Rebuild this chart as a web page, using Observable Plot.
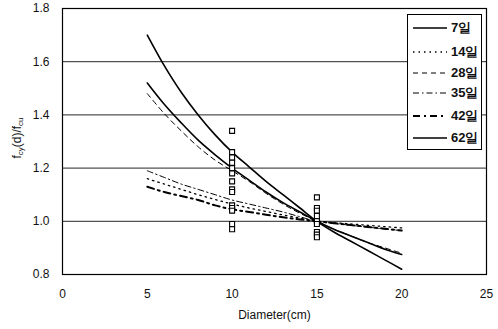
<!DOCTYPE html>
<html>
<head>
<meta charset="utf-8">
<script src="https://cdn.jsdelivr.net/npm/d3@7"></script>
<script src="https://cdn.jsdelivr.net/npm/@observablehq/plot@0.6"></script>
<style>
  html, body { margin: 0; padding: 0; background: #fff; }
  #wrap { position: relative; width: 498px; height: 329px; font-family: "Liberation Sans", Arial, sans-serif; }
  #legend { position: absolute; left: 407px; top: 14px; width: 75px; height: 136px; border: 1px solid #000; background: #fff; box-sizing: border-box; }
  .row { position: absolute; left: 4px; height: 16px; display: flex; align-items: center; font-size: 13px; font-weight: bold; color: #111; }
  .row svg { margin-right: 3px; }
  #ylab { position: absolute; left: 17px; top: 138px; transform: translate(-50%, -50%) rotate(-90deg); font-size: 12px; white-space: nowrap; color: #111; }
  #ylab sub { font-size: 8px; vertical-align: -2px; }
</style>
</head>
<body>
<div id="wrap"></div>
<script>
// ---- data ----
const diameters = [5, 6, 7, 8, 9, 10, 11, 12, 13, 14, 15, 16, 17, 18, 19, 20];
const seriesNames = ["7일", "14일", "28일", "35일", "42일", "62일"];
const v7  = [1.70, 1.585, 1.485, 1.40, 1.325, 1.26, 1.205, 1.15, 1.10, 1.05, 1.00, 0.96, 0.925, 0.89, 0.855, 0.82];
const v14 = [1.16, 1.14, 1.12, 1.10, 1.082, 1.065, 1.05, 1.037, 1.024, 1.012, 1.00, 0.995, 0.99, 0.985, 0.98, 0.975];
const v28 = [1.48, 1.405, 1.34, 1.28, 1.23, 1.19, 1.15, 1.105, 1.065, 1.03, 1.00, 0.97, 0.945, 0.92, 0.90, 0.88];
const v35 = [1.19, 1.165, 1.14, 1.12, 1.10, 1.08, 1.065, 1.05, 1.035, 1.017, 1.00, 0.992, 0.985, 0.978, 0.971, 0.965];
const v42 = [1.13, 1.11, 1.095, 1.08, 1.06, 1.045, 1.035, 1.025, 1.015, 1.007, 1.00, 0.993, 0.986, 0.979, 0.972, 0.965];
const v62 = [1.52, 1.44, 1.37, 1.305, 1.25, 1.20, 1.155, 1.11, 1.07, 1.035, 1.00, 0.97, 0.945, 0.92, 0.895, 0.875];
const obsX10 = [1.34, 1.26, 1.24, 1.22, 1.20, 1.18, 1.15, 1.12, 1.11, 1.06, 1.05, 1.04, 0.99, 0.97];
const obsX15 = [1.09, 1.05, 1.04, 1.02, 1.00, 0.99, 0.96, 0.95, 0.94];
const xTicks = [0, 5, 10, 15, 20, 25];
const yTicks = [0.8, 1.0, 1.2, 1.4, 1.6, 1.8];

// ---- styles ----
const styles = {
  "7일":  {w: 1.6, dash: null},
  "14일": {w: 1.3, dash: "1.5,4"},
  "28일": {w: 1.0, dash: "5,4"},
  "35일": {w: 1.0, dash: "6,3,1.5,3"},
  "42일": {w: 2.0, dash: "7,4,2,4"},
  "62일": {w: 1.6, dash: null}
};
const valuesBy = {"7일": v7, "14일": v14, "28일": v28, "35일": v35, "42일": v42, "62일": v62};

const lineMarks = seriesNames.map(name =>
  Plot.line(diameters.map((d, i) => ({d, v: valuesBy[name][i]})), {
    x: "d", y: "v", curve: "catmull-rom", stroke: "#000",
    strokeWidth: styles[name].w, strokeDasharray: styles[name].dash
  })
);
const obs = [
  ...obsX10.map(v => ({d: 10, v})),
  ...obsX15.map(v => ({d: 15, v}))
];

const chart = Plot.plot({
  width: 498, height: 329,
  marginLeft: 62, marginRight: 12, marginTop: 8, marginBottom: 55,
  style: {fontFamily: "Liberation Sans, Arial, sans-serif", fontSize: "12px", background: "#fff", color: "#111"},
  x: {domain: [0, 25], label: null},
  y: {domain: [0.8, 1.8], label: null},
  marks: [
    Plot.gridY(yTicks, {stroke: "#000", strokeOpacity: 0.85, strokeWidth: 1}),
    Plot.frame({stroke: "#000", strokeWidth: 1.2}),
    Plot.axisX(xTicks, {tickSize: 0, tickPadding: 15, fontSize: 12}),
    Plot.axisY(yTicks, {tickSize: 0, tickPadding: 13, tickFormat: d => d.toFixed(1), fontSize: 12}),
    ...lineMarks,
    Plot.dot(obs, {x: "d", y: "v", symbol: "square", r: 2.8, stroke: "#000", fill: "#fff", strokeWidth: 1.1}),
    Plot.text(["Diameter(cm)"], {frameAnchor: "bottom", dy: 44, text: d => d, fontSize: 12})
  ]
});

const wrap = document.getElementById("wrap");
wrap.appendChild(chart);

// y label
const yl = document.createElement("div");
yl.id = "ylab";
yl.innerHTML = "f<sub>cy</sub>(d)/f<sub>cu</sub>";
wrap.appendChild(yl);

// legend
const lg = document.createElement("div");
lg.id = "legend";
const rowTops = [5, 29, 50, 70, 93, 115];
seriesNames.forEach((name, i) => {
  const r = document.createElement("div");
  r.className = "row";
  r.style.top = rowTops[i] + "px";
  const s = styles[name];
  r.innerHTML = `<svg width="36" height="10"><line x1="1" x2="35" y1="5" y2="5" stroke="#000" stroke-width="${s.w}" ${s.dash ? `stroke-dasharray="${s.dash}"` : ""}/></svg><span>${name}</span>`;
  lg.appendChild(r);
});
wrap.appendChild(lg);
</script>
</body>
</html>
